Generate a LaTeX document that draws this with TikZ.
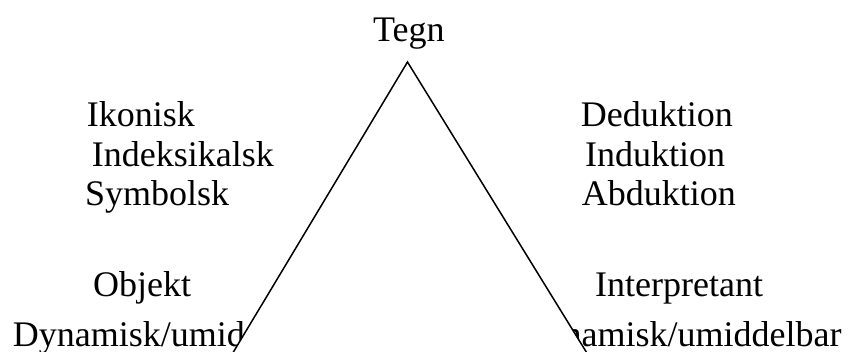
\documentclass[tikz,border=0pt]{standalone}
\usepackage{fontspec}
\setmainfont{Liberation Serif}
\usetikzlibrary{positioning}

\begin{document}
\begin{tikzpicture}[
  x=1pt, y=1pt,
  font=\fontsize{36}{41}\selectfont,
  lbl/.style={inner sep=0pt, anchor=base west},
  lblr/.style={inner sep=0pt, anchor=base east},
  side/.style={draw=black, line width=1.5pt, fill=white}
]
\useasboundingbox (0,0) rectangle (851,351);
\clip (0,0) rectangle (851,351);
% top
\node[lbl] (tegn) at (373,309.3) {Tegn};
% left column
\node[lbl] (ikon) at (86.7,224.3) {Ikonisk};
\node[lbl] (indeks) at (91.7,184.3) {Indeksikalsk};
\node[lbl] (symb) at (85,145) {Symbolsk};
\node[lbl] (obj) at (93,54.5) {Objekt};
\node[lbl] (objdyn) at (12.7,5) {Dynamisk/umiddelbar};
% right column
\node[lbl] (ded) at (580.7,224.3) {Deduktion};
\node[lbl] (ind) at (585,184.3) {Induktion};
\node[lbl] (abd) at (581.7,145) {Abduktion};
\node[lbl] (interp) at (595,54.5) {Interpretant};
\node[lblr] (intdyn) at (841.7,5) {Dynamisk/umiddelbar};
% triangle over the bottom labels
\coordinate (apex) at (407.5,289);
\coordinate (bl) at (222,-20);
\coordinate (br) at (598,-20);
\draw[side] (bl) -- (apex) -- (br);
\end{tikzpicture}
\end{document}
